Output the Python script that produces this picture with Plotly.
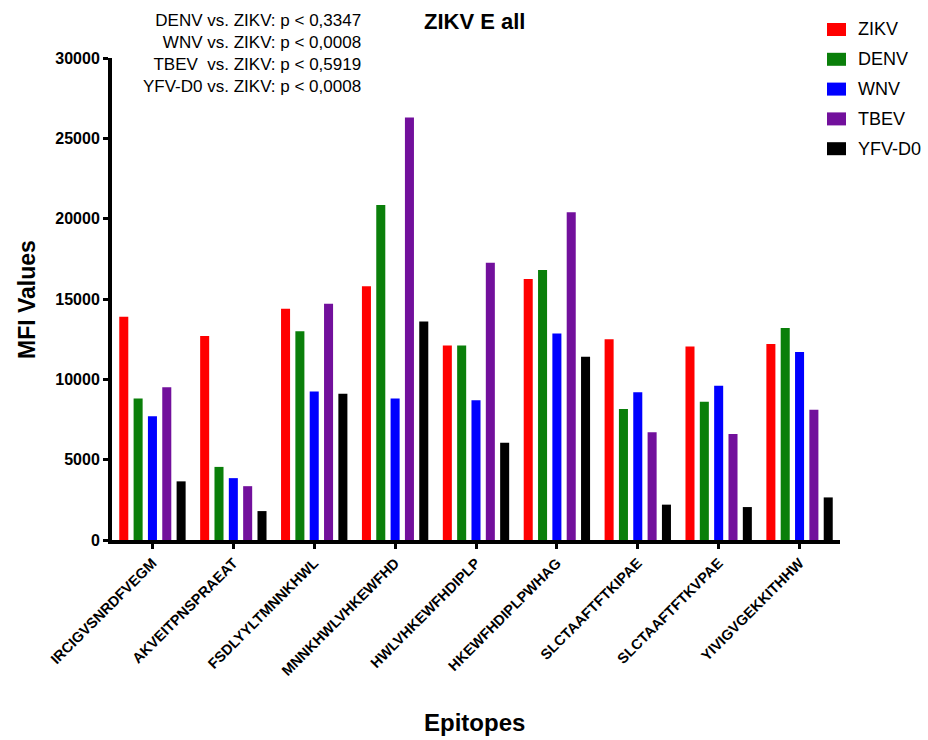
import plotly.graph_objects as go

# Epitope peptides (x categories)
epitopes = [
    "IRCIGVSNRDFVEGM",
    "AKVEITPNSPRAEAT",
    "FSDLYYLTMNNKHWL",
    "MNNKHWLVHKEWFHD",
    "HWLVHKEWFHDIPLP",
    "HKEWFHDIPLPWHAG",
    "SLCTAAFTFTKIPAE",
    "SLCTAAFTFTKVPAE",
    "YIVIGVGEKKITHHW",
]

# MFI values per serum group
zikv = [13900, 12700, 14400, 15800, 12100, 16250, 12500, 12050, 12200]
denv = [8800, 4550, 13000, 20850, 12100, 16800, 8150, 8600, 13200]
wnv = [7700, 3850, 9250, 8800, 8700, 12850, 9200, 9600, 11700]
tbev = [9500, 3350, 14700, 26300, 17250, 20400, 6700, 6600, 8100]
yfv_d0 = [3650, 1800, 9100, 13600, 6050, 11400, 2200, 2050, 2650]

series_names = ["ZIKV", "DENV", "WNV", "TBEV", "YFV-D0"]
series_values = [zikv, denv, wnv, tbev, yfv_d0]
series_colors = ["#FF0000", "#0A7F0A", "#0000FF", "#72109C", "#000000"]

y_ticks = [0, 5000, 10000, 15000, 20000, 25000, 30000]

stats_lines = [
    "DENV vs. ZIKV: p < 0,3347",
    "WNV vs. ZIKV: p < 0,0008",
    "TBEV  vs. ZIKV: p < 0,5919",
    "YFV-D0 vs. ZIKV: p < 0,0008",
]

FONT = "Arial, 'Liberation Sans', Helvetica, sans-serif"

fig = go.Figure()
for name, vals, col in zip(series_names, series_values, series_colors):
    fig.add_trace(go.Bar(
        x=epitopes, y=vals, name=name,
        marker=dict(color=col, line=dict(width=0)),
        showlegend=False,
    ))

# plot-area geometry in pixels (used to place the hand-made legend)
W, H = 928, 740
L, R, T, B = 112, 88, 58, 200
pw, ph = W - L - R, H - T - B


def px_to_paper(px, py):
    return (px - L) / pw, (H - B - py) / ph


shapes = []
annotations = []

# legend: colour swatch + label for each series
for i, (name, col) in enumerate(zip(series_names, series_colors)):
    cy = 29.5 + i * 29.8
    x0, y0 = px_to_paper(827, cy - 6.5)
    x1, y1 = px_to_paper(846, cy + 6.5)
    shapes.append(dict(type="rect", xref="paper", yref="paper",
                       x0=x0, x1=x1, y0=y1, y1=y0,
                       fillcolor=col, line=dict(width=0)))
    tx, ty = px_to_paper(856, cy)
    annotations.append(dict(xref="paper", yref="paper", x=tx, y=ty,
                            text=name, showarrow=False,
                            xanchor="left", yanchor="middle",
                            font=dict(family=FONT, size=18, color="#000")))

# statistics text block
sx, sy = px_to_paper(363, 9)
annotations.append(dict(xref="paper", yref="paper", x=sx, y=sy,
                        text="<br>".join(stats_lines), showarrow=False,
                        xanchor="right", yanchor="top", align="right",
                        font=dict(family=FONT, size=17, color="#000")))

# chart title
tx, ty = px_to_paper(474, 21)
annotations.append(dict(xref="paper", yref="paper", x=tx, y=ty,
                        text="ZIKV E all", showarrow=False,
                        xanchor="center", yanchor="middle",
                        font=dict(family=FONT, size=22, color="#000", weight="bold")))

# axis titles
ax, ay = px_to_paper(27, 300)
annotations.append(dict(xref="paper", yref="paper", x=ax, y=ay,
                        text="MFI Values", showarrow=False, textangle=-90,
                        xanchor="center", yanchor="middle",
                        font=dict(family=FONT, size=23, color="#000", weight="bold")))
ex, ey = px_to_paper(474, 722)
annotations.append(dict(xref="paper", yref="paper", x=ex, y=ey,
                        text="Epitopes", showarrow=False,
                        xanchor="center", yanchor="middle",
                        font=dict(family=FONT, size=24, color="#000", weight="bold")))

fig.update_layout(
    width=W, height=H,
    margin=dict(l=L, r=R, t=T, b=B, autoexpand=False),
    paper_bgcolor="white", plot_bgcolor="white",
    barmode="group", bargap=0.114, bargroupgap=0.37,
    shapes=shapes, annotations=annotations,
    showlegend=False,
)

fig.update_xaxes(
    type="category", range=[-0.5, 8.5],
    showline=True, linecolor="black", linewidth=4,
    ticks="outside", ticklen=5, tickwidth=3, tickcolor="black",
    tickangle=-45, showgrid=False, zeroline=False,
    tickfont=dict(family=FONT, size=14.5, color="#000", weight="bold"),
)
fig.update_yaxes(
    range=[0, 30000], tickvals=y_ticks, ticktext=[str(v) for v in y_ticks],
    showline=True, linecolor="black", linewidth=4,
    ticks="outside", ticklen=5, tickwidth=3, tickcolor="black",
    showgrid=False, zeroline=False,
    tickfont=dict(family=FONT, size=16, color="#000", weight="bold"),
)

fig.write_html("out.html")
